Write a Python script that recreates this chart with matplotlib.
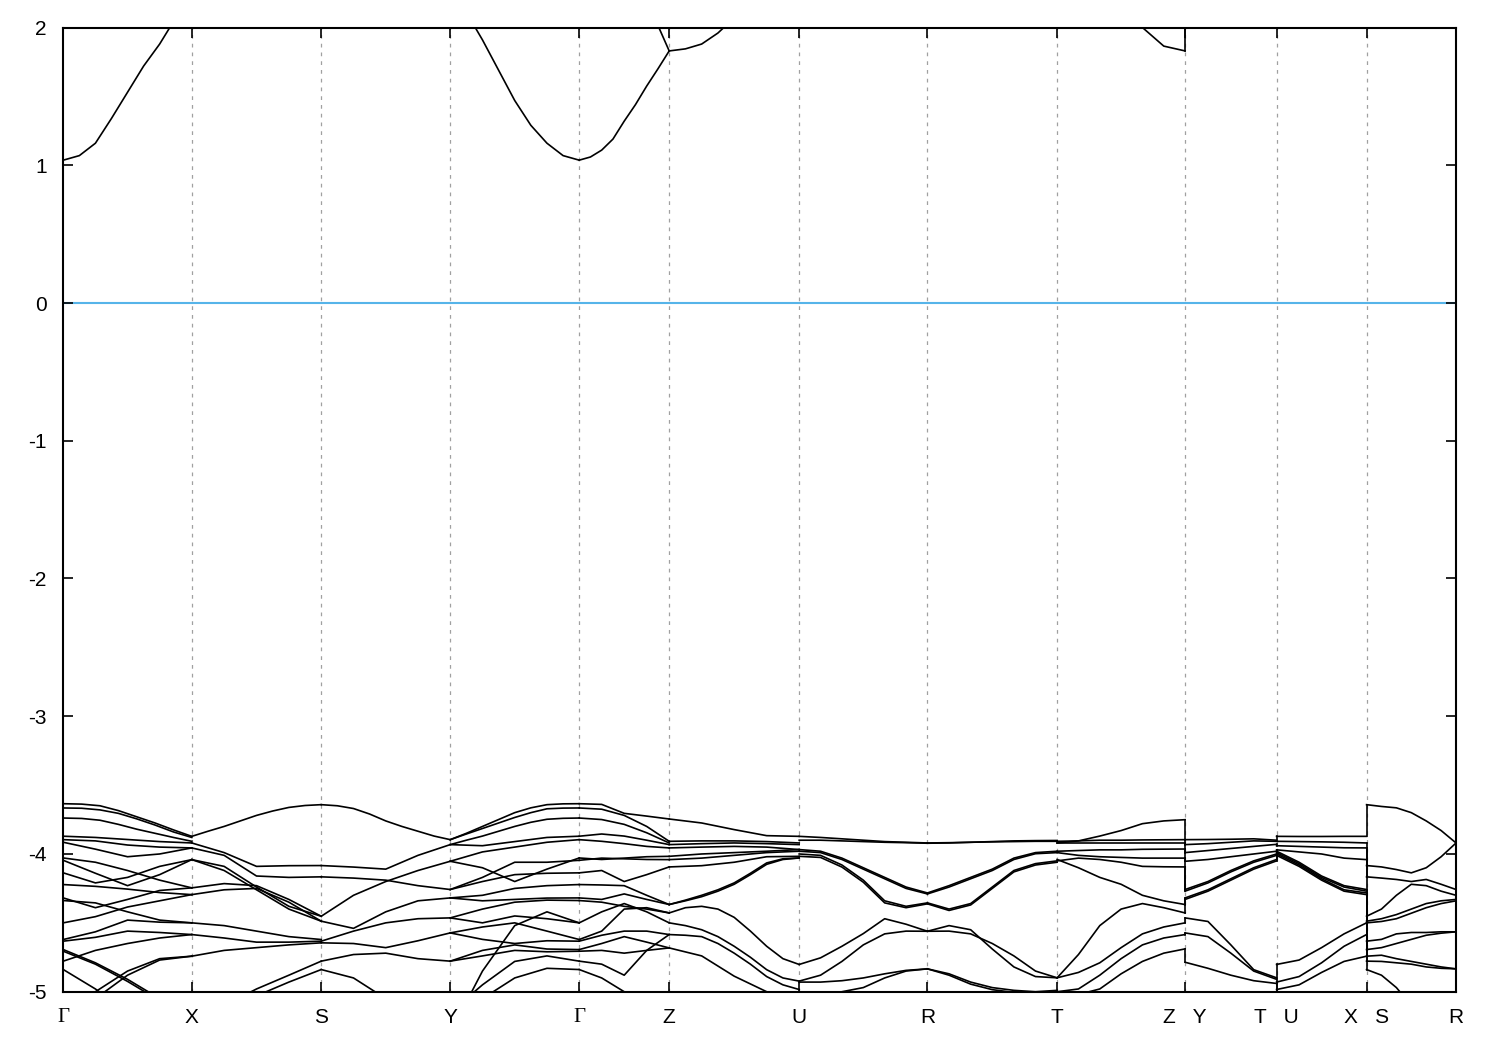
import numpy as np
import matplotlib
matplotlib.use("Agg")
import matplotlib.pyplot as plt

plt.rcParams['font.family'] = ['Liberation Sans', 'DejaVu Sans']

# k-path: distance along the path of the high-symmetry points and their labels
kpts = [0.0, 1.285, 2.58, 3.87, 5.16, 6.06, 7.36, 8.643, 9.94, 11.22, 12.135, 13.035, 13.93]
klabels = ['Γ', 'X', 'S', 'Y', 'Γ', 'Z', 'U', 'R', 'T', 'Z   Y', 'T   U', 'X   S', 'R']
breaks = [8, 9, 10]   # path is discontinuous after these segments (Z|Y, T|U, X|S)

# valence bands (eV), one list per segment, values evenly spaced along the segment
vb_GX = [
    [-3.635, -3.638, -3.650, -3.685, -3.730, -3.775, -3.825, -3.872],
    [-3.666, -3.668, -3.680, -3.705, -3.745, -3.790, -3.840, -3.880],
    [-3.739, -3.742, -3.755, -3.785, -3.820, -3.850, -3.880, -3.908],
    [-3.871, -3.880, -3.895, -3.910, -3.920],
    [-3.896, -3.905, -3.935, -3.950, -3.956],
    [-3.915, -3.965, -4.020, -4.000, -3.956],
    [-4.029, -4.060, -4.120, -4.190, -4.246],
    [-4.046, -4.140, -4.230, -4.150, -4.041],
    [-4.137, -4.210, -4.170, -4.090, -4.041],
    [-4.222, -4.235, -4.255, -4.280, -4.295],
    [-4.319, -4.390, -4.330, -4.265, -4.246],
    [-4.338, -4.355, -4.420, -4.480, -4.500],
    [-4.500, -4.455, -4.385, -4.340, -4.295],
    [-4.621, -4.565, -4.480, -4.495, -4.500],
    [-4.633, -4.605, -4.560, -4.570, -4.585],
    [-4.778, -4.700, -4.650, -4.610, -4.585],
    [-4.694, -4.790, -4.910, -5.050, -5.200],
    [-4.706, -4.800, -4.925, -5.065, -5.220],
    [-4.839, -4.980, -5.150, -5.300, -5.400],
    [-5.200, -5.000, -4.850, -4.760, -4.742],
    [-5.250, -5.050, -4.880, -4.770, -4.742],
]
vb_XS = [
    [-3.872, -3.835, -3.800, -3.760, -3.720, -3.688, -3.662, -3.648, -3.642],
    [-3.920, -3.990, -4.090, -4.085, -4.084],
    [-3.956, -4.010, -4.160, -4.170, -4.166],
    [-4.041, -4.090, -4.240, -4.380, -4.452],
    [-4.041, -4.120, -4.260, -4.400, -4.488],
    [-4.246, -4.215, -4.230, -4.330, -4.452],
    [-4.295, -4.260, -4.250, -4.350, -4.488],
    [-4.500, -4.520, -4.560, -4.600, -4.621],
    [-4.585, -4.610, -4.640, -4.640, -4.633],
    [-4.742, -4.700, -4.680, -4.660, -4.645],
    [-5.200, -5.100, -4.980, -4.880, -4.778],
    [-5.250, -5.150, -5.030, -4.930, -4.839],
]
vb_SY = [
    [-3.642, -3.650, -3.670, -3.710, -3.760, -3.800, -3.835, -3.870, -3.896],
    [-4.084, -4.095, -4.110, -4.010, -3.932],
    [-4.166, -4.175, -4.190, -4.230, -4.258],
    [-4.452, -4.300, -4.200, -4.120, -4.053],
    [-4.488, -4.540, -4.420, -4.340, -4.319],
    [-4.633, -4.560, -4.500, -4.470, -4.464],
    [-4.645, -4.650, -4.680, -4.630, -4.573],
    [-4.778, -4.730, -4.720, -4.760, -4.778],
    [-4.839, -4.900, -5.050, -5.200, -5.300],
]
vb_YG = [
    [-3.896, -3.850, -3.800, -3.750, -3.700, -3.665, -3.642, -3.636, -3.635],
    [-3.896, -3.855, -3.815, -3.775, -3.735, -3.700, -3.672, -3.667, -3.666],
    [-3.932, -3.900, -3.870, -3.835, -3.800, -3.770, -3.748, -3.741, -3.739],
    [-3.932, -3.940, -3.910, -3.880, -3.871],
    [-4.053, -3.985, -3.950, -3.915, -3.896],
    [-4.053, -4.100, -4.200, -4.110, -4.029],
    [-4.258, -4.170, -4.060, -4.060, -4.046],
    [-4.258, -4.200, -4.150, -4.140, -4.137],
    [-4.319, -4.300, -4.250, -4.230, -4.222],
    [-4.319, -4.340, -4.330, -4.320, -4.319],
    [-4.464, -4.400, -4.350, -4.335, -4.338],
    [-4.464, -4.500, -4.450, -4.470, -4.500],
    [-4.573, -4.530, -4.500, -4.560, -4.621],
    [-4.573, -4.620, -4.650, -4.630, -4.633],
    [-4.778, -4.700, -4.660, -4.690, -4.694],
    [-4.778, -4.740, -4.700, -4.710, -4.706],
    [-5.300, -4.850, -4.520, -4.420, -4.500],
    [-5.150, -4.950, -4.780, -4.740, -4.778],
    [-5.300, -5.050, -4.900, -4.830, -4.839],
]
vb_GZ = [
    [-3.635, -3.640, -3.705, -3.725, -3.746],
    [-3.666, -3.675, -3.720, -3.800, -3.908],
    [-3.739, -3.750, -3.785, -3.846, -3.920],
    [-3.871, -3.855, -3.870, -3.900, -3.932],
    [-3.896, -3.908, -3.925, -3.945, -3.956],
    [-4.029, -4.040, -4.030, -4.020, -4.017],
    [-4.046, -4.030, -4.035, -4.040, -4.041],
    [-4.137, -4.120, -4.200, -4.150, -4.094],
    [-4.222, -4.225, -4.230, -4.300, -4.367],
    [-4.319, -4.330, -4.290, -4.330, -4.367],
    [-4.338, -4.350, -4.380, -4.400, -4.428],
    [-4.500, -4.420, -4.360, -4.420, -4.500],
    [-4.621, -4.560, -4.400, -4.390, -4.428],
    [-4.633, -4.590, -4.560, -4.560, -4.585],
    [-4.694, -4.650, -4.600, -4.640, -4.682],
    [-4.706, -4.700, -4.720, -4.700, -4.682],
    [-4.778, -4.800, -4.880, -4.700, -4.585],
    [-4.839, -4.900, -5.000, -5.100, -5.200],
]
vb_ZU = [
    [-3.746, -3.775, -3.823, -3.867, -3.872],
    [-3.908, -3.905, -3.905, -3.910, -3.920],
    [-3.932, -3.925, -3.920, -3.925, -3.932],
    [-3.956, -3.950, -3.945, -3.950, -3.968],
    [-4.017, -4.000, -3.990, -3.980, -3.968],
    [-4.041, -4.030, -4.010, -3.990, -3.980],
    [-4.094, -4.085, -4.060, -4.020, -4.017],
    [-4.367, -4.335, -4.300, -4.260, -4.210, -4.140, -4.065, -4.035, -4.029],
    [-4.367, -4.340, -4.310, -4.270, -4.220, -4.150, -4.075, -4.040, -4.029],
    [-4.428, -4.390, -4.380, -4.400, -4.460, -4.560, -4.670, -4.760, -4.802],
    [-4.500, -4.520, -4.550, -4.600, -4.670, -4.750, -4.840, -4.900, -4.923],
    [-4.585, -4.590, -4.600, -4.650, -4.720, -4.800, -4.890, -4.950, -4.984],
    [-4.682, -4.740, -4.887, -5.000, -5.100],
]
vb_UR = [
    [-3.872, -3.880, -3.890, -3.900, -3.910, -3.915, -3.920],
    [-3.900, -3.900, -3.905, -3.910, -3.915, -3.918, -3.922],
    [-3.968, -3.980, -4.030, -4.100, -4.170, -4.240, -4.283],
    [-3.980, -3.990, -4.040, -4.110, -4.180, -4.250, -4.290],
    [-4.000, -4.010, -4.080, -4.190, -4.340, -4.380, -4.355],
    [-4.017, -4.025, -4.095, -4.205, -4.355, -4.390, -4.362],
    [-4.802, -4.754, -4.670, -4.578, -4.470, -4.510, -4.561],
    [-4.923, -4.880, -4.780, -4.660, -4.580, -4.560, -4.561],
    [-4.930, -4.930, -4.920, -4.900, -4.870, -4.845, -4.834],
    [-5.100, -5.050, -5.000, -4.970, -4.900, -4.850, -4.834],
]
vb_RT = [
    [-3.920, -3.918, -3.915, -3.912, -3.910, -3.908, -3.908],
    [-3.922, -3.920, -3.915, -3.910, -3.905, -3.903, -3.902],
    [-4.283, -4.230, -4.170, -4.110, -4.030, -3.990, -3.980],
    [-4.290, -4.240, -4.180, -4.120, -4.040, -3.998, -3.990],
    [-4.355, -4.400, -4.360, -4.240, -4.120, -4.070, -4.050],
    [-4.362, -4.410, -4.370, -4.250, -4.130, -4.080, -4.060],
    [-4.561, -4.520, -4.550, -4.690, -4.820, -4.890, -4.899],
    [-4.561, -4.560, -4.580, -4.650, -4.740, -4.850, -4.899],
    [-4.834, -4.870, -4.930, -4.970, -4.990, -5.000, -4.990],
    [-4.834, -4.880, -4.945, -4.985, -5.005, -5.010, -5.000],
]
vb_TZ = [
    [-3.920, -3.905, -3.870, -3.830, -3.780, -3.760, -3.751],
    [-3.908, -3.905, -3.900, -3.900, -3.898, -3.897, -3.896],
    [-3.920, -3.920, -3.920, -3.920, -3.920, -3.920, -3.920],
    [-3.980, -3.975, -3.970, -3.970, -3.966, -3.965, -3.964],
    [-3.990, -4.010, -4.020, -4.025, -4.030, -4.030, -4.030],
    [-4.050, -4.030, -4.040, -4.060, -4.090, -4.093, -4.094],
    [-4.040, -4.100, -4.170, -4.220, -4.300, -4.340, -4.367],
    [-4.899, -4.730, -4.520, -4.400, -4.360, -4.390, -4.428],
    [-4.899, -4.860, -4.790, -4.680, -4.580, -4.530, -4.500],
    [-5.000, -4.980, -4.880, -4.760, -4.660, -4.610, -4.585],
    [-5.050, -5.020, -4.980, -4.870, -4.780, -4.720, -4.689],
    [-5.300, -5.250, -5.200, -5.150, -5.100, -5.080, -5.050],
]
vb_YT = [
    [-3.896, -3.895, -3.893, -3.890, -3.900],
    [-3.932, -3.925, -3.915, -3.905, -3.908],
    [-3.990, -3.975, -3.960, -3.945, -3.930],
    [-4.053, -4.040, -4.020, -4.000, -3.980],
    [-4.258, -4.200, -4.120, -4.050, -4.000],
    [-4.270, -4.210, -4.130, -4.060, -4.010],
    [-4.319, -4.260, -4.180, -4.100, -4.040],
    [-4.330, -4.270, -4.190, -4.110, -4.050],
    [-4.464, -4.490, -4.660, -4.840, -4.899],
    [-4.573, -4.600, -4.720, -4.850, -4.910],
    [-4.786, -4.830, -4.880, -4.920, -4.940],
    [-5.200, -5.150, -5.100, -5.050, -5.000],
]
vb_UX = [
    [-3.872, -3.873, -3.873, -3.872, -3.872],
    [-3.908, -3.910, -3.912, -3.915, -3.920],
    [-3.940, -3.945, -3.950, -3.955, -3.956],
    [-3.970, -3.985, -4.000, -4.030, -4.041],
    [-3.980, -4.060, -4.160, -4.230, -4.258],
    [-3.990, -4.070, -4.170, -4.240, -4.270],
    [-4.000, -4.080, -4.180, -4.260, -4.283],
    [-4.010, -4.090, -4.190, -4.270, -4.295],
    [-4.802, -4.770, -4.680, -4.580, -4.500],
    [-4.930, -4.890, -4.790, -4.670, -4.585],
    [-4.984, -4.950, -4.860, -4.780, -4.742],
    [-5.200, -5.150, -5.100, -5.050, -5.000],
]
vb_SR = [
    [-3.642, -3.655, -3.665, -3.700, -3.760, -3.830, -3.920],
    [-4.084, -4.094, -4.113, -4.137, -4.100, -4.020, -3.920],
    [-4.166, -4.175, -4.185, -4.200, -4.185, -4.220, -4.258],
    [-4.452, -4.400, -4.300, -4.220, -4.230, -4.270, -4.300],
    [-4.488, -4.470, -4.440, -4.400, -4.360, -4.340, -4.330],
    [-4.500, -4.490, -4.470, -4.430, -4.390, -4.360, -4.340],
    [-4.633, -4.620, -4.580, -4.570, -4.570, -4.565, -4.565],
    [-4.694, -4.680, -4.650, -4.620, -4.590, -4.575, -4.565],
    [-4.742, -4.735, -4.760, -4.780, -4.800, -4.820, -4.834],
    [-4.778, -4.780, -4.790, -4.800, -4.820, -4.830, -4.834],
    [-4.839, -4.880, -4.970, -5.100, -5.200, -5.300, -5.400],
]
valence = [vb_GX, vb_XS, vb_SY, vb_YG, vb_GZ, vb_ZU, vb_UR, vb_RT, vb_TZ, vb_YT, vb_UX, vb_SR]

# conduction bands (eV) per segment, same layout
cb_GX = [[1.037, 1.070, 1.160, 1.340, 1.530, 1.720, 1.880, 2.070, 2.270]]
cb_YG = [[2.350, 2.110, 1.910, 1.690, 1.470, 1.290, 1.160, 1.070, 1.037]]
cb_GZ = [[1.037, 1.060, 1.110, 1.190, 1.320, 1.440, 1.575, 1.700, 1.830],
         [2.900, 2.700, 2.450, 2.200, 1.830]]
cb_ZU = [[1.830, 1.845, 1.880, 1.960, 2.070, 2.250, 2.400, 2.500, 2.600]]
cb_TZ = [[2.900, 2.700, 2.450, 2.200, 2.000, 1.865, 1.830]]
cb_YT = [[2.300, 2.400, 2.500, 2.600, 2.700]]
conduction = [cb_GX, [], [], cb_YG, cb_GZ, cb_ZU, [], [], cb_TZ, cb_YT, [], []]

fig = plt.figure(figsize=(15, 10.5), dpi=100)
ax = fig.add_axes([0.0422, 0.0555, 0.9285, 0.9183])

lw = 1.2
for i in range(len(valence)):
    k0, k1 = kpts[i], kpts[i + 1]
    for band in valence[i] + conduction[i]:
        ks = np.linspace(k0, k1, len(band))
        ax.plot(ks, band, color='black', lw=lw, solid_joinstyle='round')

# vertical jumps where the path is discontinuous (bands joined by index)
for i in breaks:
    kb = kpts[i + 1]
    for left_set, right_set in [(valence[i], valence[i + 1]), (conduction[i], conduction[i + 1])]:
        left = sorted([b[-1] for b in left_set], reverse=True)
        right = sorted([b[0] for b in right_set], reverse=True)
        for a, b in zip(left, right):
            ax.plot([kb, kb], [a, b], color='black', lw=lw)

# Fermi level
ax.axhline(0, color='#56b4e9', lw=1.5, zorder=1)

# dashed lines at the high-symmetry points
for k in kpts[1:-1]:
    ax.axvline(k, color='#a0a0a0', lw=0.9, ls=(0, (3, 4)), zorder=0)

ax.set_xlim(kpts[0], kpts[-1])
ax.set_ylim(-5, 2)
ax.set_xticks(kpts)
ax.set_xticklabels(klabels)
ax.set_yticks(range(-5, 3))
ax.set_yticklabels([str(v) for v in range(-5, 3)])
ax.tick_params(direction='in', length=7, width=1.2, labelsize=15, pad=12,
               top=True, right=True, colors='black')
for lab in ax.get_xticklabels():
    if lab.get_text() == 'Γ':
        lab.set_family(['Liberation Serif', 'DejaVu Serif'])
for s in ax.spines.values():
    s.set_linewidth(1.5)

fig.savefig('out.png', dpi=100)
